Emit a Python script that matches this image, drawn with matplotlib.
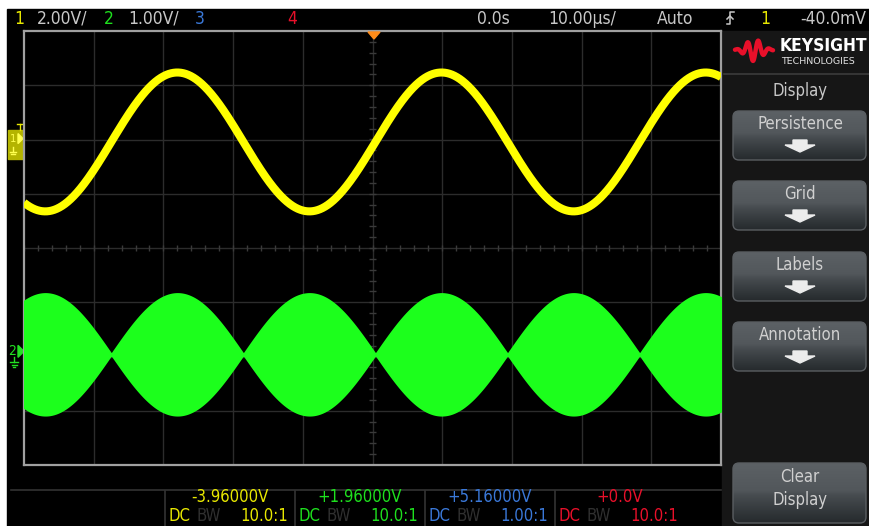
import numpy as np
import matplotlib
matplotlib.use("Agg")
import matplotlib.pyplot as plt
from matplotlib.patches import Rectangle, FancyBboxPatch, Polygon

# ---------------- data ----------------
time_per_div_us = 10.0
n_hdiv = 10
n_vdiv = 8
ch_labels = ["1", "2", "3", "4"]
ch_colors = ["#e8e800", "#1ee01e", "#3a78d8", "#e8102a"]
ch_scale_v = [2.0, 1.0]                 # V/div for ch1, ch2
ch_scale_text = ["2.00V/", "1.00V/"]
ch_offset_v = [-3.96, 1.96, 5.16, 0.0]
ch_offset_text = ["-3.96000V", "+1.96000V", "+5.16000V", "+0.0V"]
ch_probe_text = ["10.0:1", "10.0:1", "1.00:1", "10.0:1"]
delay_text = "0.0s"
timebase_text = "10.00µs/"
trig_mode_text = "Auto"
trig_level_text = "-40.0mV"
ch1_amp_v = 2.56
ch1_mean_v = -0.05
sig_period_us = 37.9
sig_peak_us = -28.0
# channel 2: DSB modulated carrier, envelope amplitude
ch2_env_amp_v = 1.12
ch2_mean_v = 0.0
menu_title = "Display"
menu_buttons = ["Persistence", "Grid", "Labels", "Annotation"]
clear_button = ["Clear", "Display"]

# ---------------- layout ----------------
W, H = 869, 526
DPI = 100
PX0, PX1, PY0, PY1 = 24, 721, 31, 465      # graticule in pixels
FONT = dict(family=["Liberation Sans Narrow", "DejaVu Sans"], fontstretch="condensed")
GRAY_TXT = "#c8c8c8"

fig = plt.figure(figsize=(W / DPI, H / DPI), dpi=DPI, facecolor="white")
bg = fig.add_axes([0, 0, 1, 1])
bg.set_xlim(0, W)
bg.set_ylim(H, 0)
bg.axis("off")

# black screen
bg.add_patch(Rectangle((7, 9), W - 7, H - 9, color="black", zorder=0))
# right menu panel
bg.add_patch(Rectangle((PX1 + 1, PY0), W - PX1 - 1, H - PY0, color="#161616", zorder=1))

ax = fig.add_axes([PX0 / W, (H - PY1) / H, (PX1 - PX0) / W, (PY1 - PY0) / H])
half_t = time_per_div_us * n_hdiv / 2
ax.set_xlim(-half_t, half_t)
ax.set_ylim(-n_vdiv / 2, n_vdiv / 2)
ax.set_facecolor("black")
ax.set_xticks([])
ax.set_yticks([])
for s in ax.spines.values():
    s.set_color("#a0a0a0")
    s.set_linewidth(1.6)

# graticule
gcol = "#2c2c2c"
for k in range(1, n_hdiv):
    ax.axvline(-half_t + k * time_per_div_us, color=gcol, lw=1.0, zorder=1)
for k in range(1, n_vdiv):
    ax.axhline(-n_vdiv / 2 + k, color=gcol, lw=1.0, zorder=1)
# center-line minor ticks
tx = np.arange(-half_t, half_t + 0.01, time_per_div_us / 5)
ax.vlines(tx, -0.06, 0.06, color="#3a3a3a", lw=1.0, zorder=1)
ty = np.arange(-n_vdiv / 2, n_vdiv / 2 + 0.01, 0.2)
ax.hlines(ty, -0.45, 0.45, color="#3a3a3a", lw=1.0, zorder=1)

# traces
t = np.linspace(-half_t, half_t, 4000)
phase = 2 * np.pi * (t - sig_peak_us) / sig_period_us
v1 = ch1_mean_v + ch1_amp_v * np.cos(phase)
y1 = (v1 - ch_offset_v[0]) / ch_scale_v[0]
env = ch2_env_amp_v * np.abs(np.cos(phase))
c2 = (ch2_mean_v - ch_offset_v[1]) / ch_scale_v[1]
ax.fill_between(t, c2 - env / ch_scale_v[1], c2 + env / ch_scale_v[1],
                color="#1cff1c", lw=1.4, edgecolor="#1cff1c", zorder=3)
ax.plot(t, y1, color="#ffff00", lw=5.8, solid_capstyle="butt", zorder=4)


# pixel helper for ground levels
def div_to_px(d):
    return (PY0 + PY1) / 2 - d * (PY1 - PY0) / n_vdiv


g1 = div_to_px(-ch_offset_v[0] / ch_scale_v[0]) + 2
g2 = div_to_px(-ch_offset_v[1] / ch_scale_v[1])

# ---------------- top status bar ----------------
TY = 18.5
fs_top = 12.5
bg.text(14, TY, ch_labels[0], color=ch_colors[0], fontsize=fs_top, va="center", **FONT)
bg.text(37, TY, ch_scale_text[0], color=GRAY_TXT, fontsize=fs_top, va="center", **FONT)
bg.text(104, TY, ch_labels[1], color=ch_colors[1], fontsize=fs_top, va="center", **FONT)
bg.text(128, TY, ch_scale_text[1], color=GRAY_TXT, fontsize=fs_top, va="center", **FONT)
bg.text(195, TY, ch_labels[2], color=ch_colors[2], fontsize=fs_top, va="center", **FONT)
bg.text(287, TY, ch_labels[3], color=ch_colors[3], fontsize=fs_top, va="center", **FONT)
bg.text(477, TY, delay_text, color=GRAY_TXT, fontsize=fs_top, va="center", **FONT)
bg.text(548, TY, timebase_text, color=GRAY_TXT, fontsize=fs_top, va="center", **FONT)
bg.text(657, TY, trig_mode_text, color=GRAY_TXT, fontsize=fs_top, va="center", **FONT)
# trigger edge symbol
bg.plot([727, 730, 730, 734], [24, 24, 12, 12], color=GRAY_TXT, lw=1.1)
bg.plot([727, 730, 733], [19, 16, 19], color=GRAY_TXT, lw=1.1)
bg.text(760, TY, ch_labels[0], color=ch_colors[0], fontsize=fs_top, va="center", **FONT)
bg.text(866, TY, trig_level_text, color=GRAY_TXT, fontsize=fs_top, va="center", ha="right", **FONT)

# ---------------- bottom channel info ----------------
bg.plot([11, PX1], [490, 490], color="#333333", lw=1.2)
sep_x = [165, 295, 425, 555]
for sx in sep_x:
    bg.plot([sx, sx], [491, H], color="#333333", lw=1.2)
fs_bot = 12
for i in range(4):
    x0 = sep_x[i]
    bg.text(x0 + 65, 497.5, ch_offset_text[i], color=ch_colors[i], fontsize=fs_bot,
            ha="center", va="center", **FONT)
    bg.text(x0 + 4, 516, "DC", color=ch_colors[i], fontsize=fs_bot, va="center", **FONT)
    bg.text(x0 + 31, 516, "BW", color="#303030", fontsize=fs_bot, va="center", **FONT)
    bg.text(x0 + 123, 516, ch_probe_text[i], color=ch_colors[i], fontsize=fs_bot,
            ha="right", va="center", **FONT)

# ---------------- right menu ----------------
lx = np.linspace(0, 1, 200)
ly = np.sin(2 * np.pi * 3.5 * lx + 0.6) * np.exp(-((lx - 0.5) / 0.28) ** 2) * 11
bg.plot(735 + 38 * lx, 50 - ly, color="#e8102a", lw=3.2, solid_capstyle="round", zorder=3)
bg.text(780, 46, "KEYSIGHT", color="white", fontsize=12.5, fontweight="bold", va="center",
        family=["DejaVu Sans"], fontstretch="condensed", zorder=3)
bg.text(781, 61, "TECHNOLOGIES", color="#e0e0e0", fontsize=6.8, va="center",
        family=["DejaVu Sans"], zorder=3)
bg.plot([724, W], [74, 74], color="#3c3c3c", lw=1.2, zorder=3)
bg.text(800, 91, menu_title, color=GRAY_TXT, fontsize=12, ha="center", va="center", zorder=3, **FONT)

grad_cols = np.array([[0x5c, 0x61, 0x65], [0x52, 0x57, 0x5b], [0x46, 0x4b, 0x4f],
                      [0x30, 0x35, 0x38], [0x26, 0x2a, 0x2d]]) / 255.0


def button(y0, y1, labels, arrow=True):
    x0, x1 = 733, 866
    patch = FancyBboxPatch((x0, y0), x1 - x0, y1 - y0,
                           boxstyle="round,pad=0,rounding_size=6",
                           facecolor="none", edgecolor="#5a5e62", lw=1.0, zorder=4)
    bg.add_patch(patch)
    n = 64
    pos = np.linspace(0, 1, n)
    stops = np.array([0.0, 0.45, 0.55, 0.85, 1.0])
    img = np.stack([np.interp(pos, stops, grad_cols[:, c]) for c in range(3)], axis=-1)
    img = img[:, None, :]
    im = bg.imshow(img, extent=(x0, x1, y1, y0), aspect="auto", zorder=3,
                   interpolation="bilinear", origin="upper")
    im.set_clip_path(patch)
    if arrow:
        bg.text(800, y0 + 13, labels[0], color="#d0d0d0", fontsize=12, ha="center",
                va="center", zorder=5, **FONT)
        ya = y0 + 34
        bg.add_patch(Polygon([[793, ya - 5], [807, ya - 5], [807, ya], [815, ya],
                              [800, ya + 7], [785, ya], [793, ya]],
                             color="#ececec", zorder=5))
    else:
        bg.text(800, y0 + 14, labels[0], color="#d0d0d0", fontsize=12, ha="center",
                va="center", zorder=5, **FONT)
        bg.text(800, y0 + 37, labels[1], color="#d0d0d0", fontsize=12, ha="center",
                va="center", zorder=5, **FONT)


button_tops = [111, 181, 252, 322]
for yb, lab in zip(button_tops, menu_buttons):
    button(yb, yb + 49, [lab])
button(463, 523, clear_button, arrow=False)

bg.set_xlim(0, W)
bg.set_ylim(H, 0)
ax.set_zorder(2)
bg.set_zorder(1)

# overlay for markers drawn over the graticule frame
ov = fig.add_axes([0, 0, 1, 1])
ov.set_xlim(0, W)
ov.set_ylim(H, 0)
ov.axis("off")
ov.set_zorder(3)
ov.patch.set_alpha(0)
ov.add_patch(Polygon([[368, PY0 + 1], [380, PY0 + 1], [374, PY0 + 8]], color="#ff8c1a"))
# ch1 marker
bg.add_patch(Rectangle((8, g1 - 13), 16, 29, color="#b4b400", zorder=5))
bg.text(13, g1 - 4, "1", color="#ffff50", fontsize=8, ha="center", va="center", zorder=6, **FONT)
bg.add_patch(Polygon([[18, g1 - 9], [23, g1 - 4], [18, g1 + 1]], color="#ffff50", zorder=6))
bg.plot([13, 13], [g1 + 4, g1 + 9], color="#ffff50", lw=1, zorder=6)
bg.plot([10, 16], [g1 + 9, g1 + 9], color="#ffff50", lw=1, zorder=6)
bg.plot([11, 15], [g1 + 11, g1 + 11], color="#ffff50", lw=1, zorder=6)
bg.plot([20, 20], [g1 - 19, g1 - 13], color="#e8e800", lw=1, zorder=6)
bg.plot([17, 23], [g1 - 19, g1 - 19], color="#e8e800", lw=1, zorder=6)
# ch2 marker
bg.text(12, g2 - 3, "2", color="#22e022", fontsize=10, ha="center", va="center", zorder=6, **FONT)
bg.add_patch(Polygon([[18, g2 - 9], [24, g2 - 3], [18, g2 + 3]], color="#22e022", zorder=6))
bg.plot([14, 14], [g2 + 3, g2 + 8], color="#22e022", lw=1, zorder=6)
bg.plot([10, 18], [g2 + 8, g2 + 8], color="#22e022", lw=1, zorder=6)
bg.plot([11.5, 16.5], [g2 + 10.5, g2 + 10.5], color="#22e022", lw=1, zorder=6)
bg.plot([13, 15], [g2 + 13, g2 + 13], color="#22e022", lw=1, zorder=6)

fig.savefig("out.png", dpi=DPI, facecolor="white")
